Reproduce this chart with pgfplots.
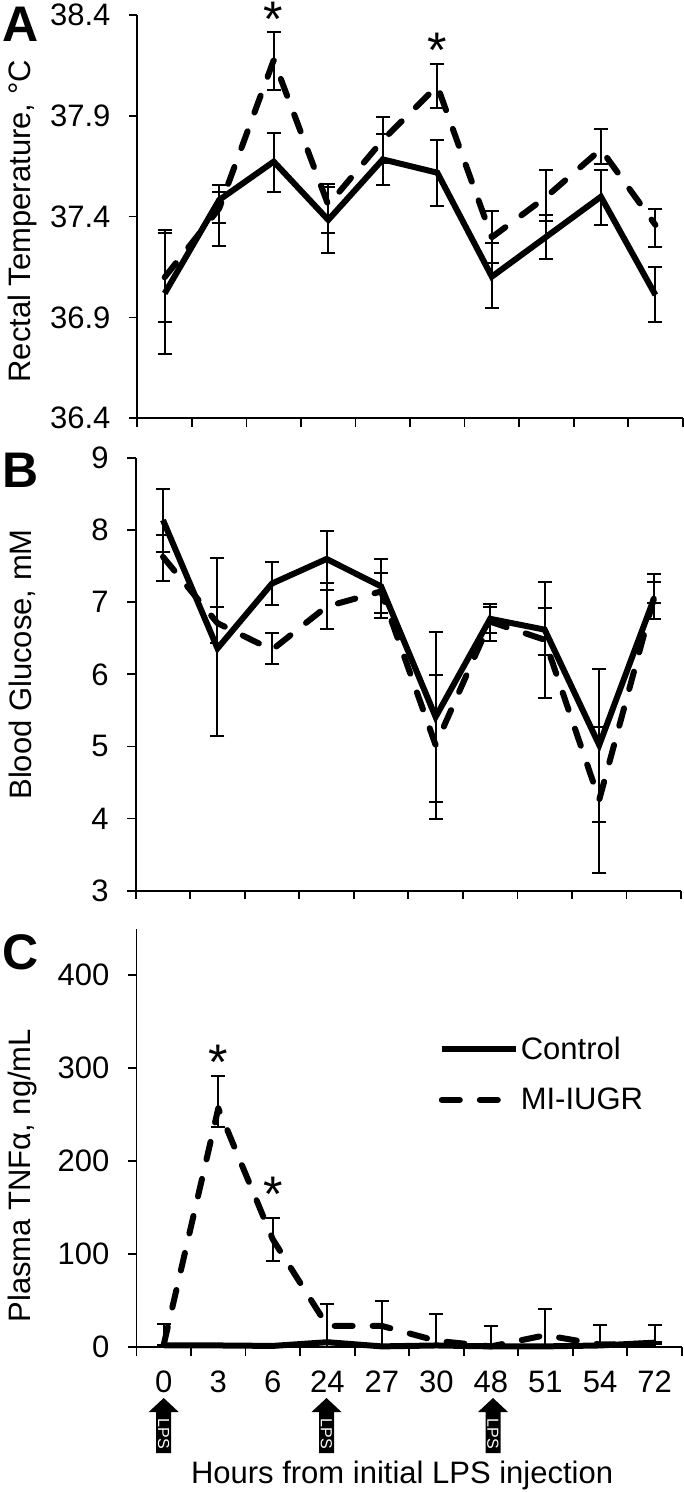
\documentclass[border=0pt]{standalone}
\usepackage{fontspec}
\setmainfont{Liberation Sans}
\usepackage{pgfplots}
\pgfplotsset{compat=1.18}
\newcommand{\fs}{\fontsize{31}{32}\selectfont}
\pgfplotsset{
  panel/.style={
    scale only axis, width=545.3pt, clip=false,
    axis lines=left, axis line style={-, line width=1.8pt, black},
    xmin=-0.5, xmax=9.5,
    xtick={-0.5,0.5,...,9.5}, xticklabels={},
    tick align=outside, tick style={line width=1.8pt, black},
    major tick length=8.5pt,
    /pgf/number format/assume math mode=true,
    tick label style={font=\fs},
    yticklabel style={xshift=-15pt, /pgf/number format/fixed, /pgf/number format/fixed zerofill=false},
    label style={font=\fs},
  },
  ctrl/.style={black, line width=6pt, line join=miter, no markers, solid,
    error bars/.cd, y dir=both, y explicit,
    error bar style={solid, line width=2pt, black},
    error mark options={solid, rotate=90, mark size=7pt, line width=2pt, black}},
  mi/.style={black, line width=6pt, line cap=round, line join=round, no markers, dash pattern=on 18pt off 20pt,
    error bars/.cd, y dir=both, y explicit,
    error bar style={solid, line cap=butt, line width=2pt, black},
    error mark options={solid, line cap=butt, rotate=90, mark size=7pt, line width=2pt, black}},
  table/tab/.style={x=x, y=y,
    y error plus expr=\thisrow{top}-\thisrow{y},
    y error minus expr=\thisrow{y}-\thisrow{bot}},
}
\begin{document}
\begin{tikzpicture}[x=1pt,y=-1pt]
\useasboundingbox (0,0) rectangle (684,1492);

% Panel A
\begin{axis}[panel, at={(137.4pt,-418.3pt)}, anchor=south west, height=403.6pt,
  ymin=36.4, ymax=38.4, ytick={36.4,36.9,37.4,37.9,38.4},
  yticklabel style={/pgf/number format/precision=1, /pgf/number format/fixed zerofill=true},
  ylabel={Rectal Temperature, °C},
  ylabel style={at={(axis description cs:-0.21,0.488)}, anchor=center}]
\addplot[mi] table[tab] {
x y top bot
0 37.099 37.333 36.879
1 37.440 37.523 37.369
2 38.175 38.316 38.027
3 37.457 37.561 37.317
4 37.779 37.891 37.667
5 38.047 38.156 37.936
6 37.297 37.427 37.168
7 37.498 37.630 37.379
8 37.733 37.835 37.660
9 37.358 37.439 37.251
};
\addplot[ctrl] table[tab] {
x y top bot
0 37.019 37.320 36.717
1 37.482 37.556 37.255
2 37.672 37.815 37.520
3 37.383 37.545 37.221
4 37.683 37.807 37.556
5 37.617 37.779 37.452
6 37.102 37.267 36.948
7 37.300 37.407 37.189
8 37.498 37.630 37.358
9 37.011 37.148 36.879
};
\node[font=\fontsize{50}{50}\selectfont, anchor=base] at (axis cs:2,38.29) {*};
\node[font=\fontsize{50}{50}\selectfont, anchor=base] at (axis cs:5,38.138) {*};
\end{axis}

% Panel B
\begin{axis}[panel, at={(135.7pt,-890.7pt)}, anchor=south west, height=432.7pt,
  ymin=3, ymax=9, ytick={3,4,...,9},
  ylabel={Blood Glucose, mM},
  ylabel style={at={(axis description cs:-0.208,0.523)}, anchor=center}]
\addplot[mi] table[tab] {
x y top bot
0 7.63 7.933 7.300
1 6.71 6.930 6.430
2 6.34 6.569 6.144
3 6.94 7.263 6.625
4 7.15 7.411 6.786
5 5.02 5.991 3.989
6 6.73 6.939 6.463
7 6.48 7.276 5.668
8 4.26 5.265 3.240
9 7.05 7.286 6.994
};
\addplot[ctrl] table[tab] {
x y top bot
0 8.14 8.576 7.702
1 6.36 7.609 5.150
2 7.26 7.554 6.962
3 7.60 7.993 7.170
4 7.22 7.605 6.846
5 5.41 6.583 4.234
6 6.77 6.976 6.569
7 6.62 6.916 6.269
8 5.02 6.070 3.957
9 7.04 7.392 6.768
};
\end{axis}

% Panel C
\begin{axis}[panel, at={(136.5pt,-1347.3pt)}, anchor=south west, height=418.5pt,
  ymin=0, ymax=450, ytick={0,100,200,300,400},
  extra x ticks={0,1,...,9}, extra x tick labels={0,3,6,24,27,30,48,51,54,72},
  extra x tick style={major tick length=0pt, xticklabel style={yshift=-20pt}},
  ylabel={Plasma TNFα, ng/mL},
  ylabel style={at={(axis description cs:-0.209,0.41)}, anchor=center},
  xlabel={Hours from initial LPS injection},
  xlabel style={at={(axis description cs:0.487,0)}, anchor=center, yshift=-128pt},
  legend style={at={(rel axis cs:0.554,0.746)}, anchor=north west, draw=none, fill=none,
    font=\fs, inner sep=0pt, row sep=23pt,
    cells={anchor=west}},
  legend image code/.code={\draw[#1] (0pt,0pt) -- (74pt,0pt);},
  legend cell align=left, reverse legend]
\addplot[mi] table[tab] {
x y top bot
0 3 25 0
1 257 292 237
2 116 139 93
3 23 47 0
4 23 50 0
5 7 35.5 0
6 1 23 0
7 13 41 0
8 3 24 0
9 4 24 0
};
\addplot[ctrl] table[tab] {
x y top bot
0 2 3 1
1 2 3 1
2 1.5 2.5 0.5
3 5.5 7 4
4 1 2 0
5 2 3 1
6 1 2 0
7 1 2 0
8 2 3 1
9 5 6 4
};
\legend{MI-IUGR,Control}
\node[font=\fontsize{50}{50}\selectfont, anchor=base] at (axis cs:1,288) {*};
\node[font=\fontsize{50}{50}\selectfont, anchor=base] at (axis cs:2,146) {*};
\end{axis}

% Panel letters
\node[font=\fontsize{50}{50}\selectfont\bfseries, anchor=center] at (21,24) {A};
\node[font=\fontsize{50}{50}\selectfont\bfseries, anchor=center] at (21,470) {B};
\node[font=\fontsize{50}{50}\selectfont\bfseries, anchor=center] at (21,952) {C};

% LPS arrows
\foreach \ax in {163.7,326.5,493}{
  \fill[black] (\ax,1398) -- (\ax+15,1412) -- (\ax+7.5,1412) -- (\ax+7.5,1453) -- (\ax-7.5,1453) -- (\ax-7.5,1412) -- (\ax-15,1412) -- cycle;
  \node[white, rotate=-90, font=\fontsize{16}{16}\selectfont, inner sep=0pt] at (\ax,1434) {LPS};
}
\end{tikzpicture}
\end{document}
